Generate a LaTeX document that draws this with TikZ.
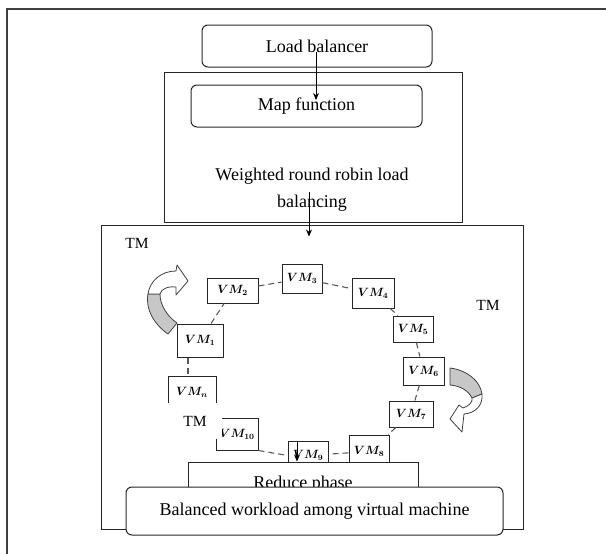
\documentclass[tikz,border=0pt]{standalone}
\usepackage{fontspec}
\setmainfont{Liberation Serif}
\usetikzlibrary{calc,arrows.meta}
\begin{document}
\begin{tikzpicture}[x=1pt,y=-1pt,
  box/.style={draw=black!85, line width=1pt, inner sep=0pt},
  rbox/.style={box, rounded corners=6pt},
  lbl/.style={font=\fontsize{18}{27}\selectfont},
  tmlbl/.style={font=\fontsize{15.5}{18}\selectfont, inner sep=0pt},
  vm/.style={box, font=\fontsize{12}{14}\selectfont\boldmath},
  ring/.style={draw=black!65, line width=1.1pt, dash pattern=on 6pt off 4pt},
  arr/.style={-{Stealth[length=7pt,width=6pt]}, line width=0.9pt},
  curvline/.style={draw=black!75, line width=0.8pt, line join=round},
  graypart/.style={curvline, fill=black!22},
  whitepart/.style={curvline, fill=white}]
\useasboundingbox (0,0) rectangle (606,554);
% outer frame
\draw[black!75, line width=1.6pt] (7,554) -- (7,9) -- (606,9);

% top part
\node[rbox, lbl, minimum width=230pt, minimum height=42pt] (lb) at (317,46) {Load balancer};
\node[box, minimum width=298pt, minimum height=150pt] (wrr) at (313,147) {};
\node[rbox, lbl, minimum width=231pt, minimum height=42pt] (map) at (306.5,106) {Map function};
\node[lbl, align=center, inner sep=0pt] (wrrtext) at (312,190) {Weighted round robin load\\balancing};
\draw[arr] ($(lb.center)+(-1,6)$) -- ($(lb.center |- map.center)+(-1,-6)$);

% TM box
\node[box, minimum width=422pt, minimum height=304pt] (tm) at (312,377) {};
\draw[arr] ($(wrrtext.center)+(-3,2)$) -- ($(wrrtext.center |- tm.north)+(-3,12)$);
\node[tmlbl] (tm1) at (137,243) {TM};
\node[tmlbl] (tm2) at (488,305) {TM};

% VM nodes
\node[vm, minimum width=51pt, minimum height=25pt] (vm2) at (232.5,290.5) {$VM_2$};
\node[vm, minimum width=40pt, minimum height=29pt] (vm3) at (302,278.5) {$VM_3$};
\node[vm, minimum width=42pt, minimum height=30pt] (vm4) at (373,293) {$VM_4$};
\node[vm, minimum width=40pt, minimum height=26pt] (vm5) at (413,329) {$VM_5$};
\node[vm, minimum width=41pt, minimum height=28pt] (vm6) at (423.5,371) {$VM_6$};
\node[vm, minimum width=44pt, minimum height=26pt] (vm7) at (411,414) {$VM_7$};
\node[vm, minimum width=40pt, minimum height=33pt] (vm8) at (369,451.5) {$VM_8$};
\node[vm, minimum width=40pt, minimum height=29pt] (vm9) at (308,455.5) {$VM_9$};
\node[vm, minimum width=42pt, minimum height=32pt] (vm10) at (237,434) {$VM_{10}$};
\node[vm, minimum width=46pt, minimum height=33pt] (vm1) at (200,340.5) {$VM_1$};
\node[vm, minimum width=48pt, minimum height=32pt] (vmn) at (192,392) {$VM_n$};

% ring
\draw[ring] (vm2) -- (vm3);
\draw[ring] (vm3) -- (vm4);
\draw[ring] (vm4) -- (vm5);
\draw[ring] (vm5) -- (vm6);
\draw[ring] (vm6) -- (vm7);
\draw[ring] (vm7) -- (vm8);
\draw[ring] (vm8) -- (vm9);
\draw[ring] (vm10.south east) -- (vm9.west);
\draw[ring] (vm1) -- (vm2);
\draw[ring] ($(vm1.south)+(-12,0)$) -- ($(vmn.north)+(-4,0)$);

% lower-left TM label covering box edges
\node[tmlbl, fill=white, minimum width=54pt, minimum height=36pt] (tm3) at (195,421) {TM};

% left curved arrow
\draw[graypart] (148,294) .. controls (145,310) and (155,325) .. (168,334)
  -- (177,323) .. controls (167,316) and (160,305) .. (160,294) -- cycle;
\draw[whitepart] (148,294) .. controls (150,280) and (162,271) .. (176,271)
  -- (177,265) -- (188,281) -- (176,295) -- (176,287)
  .. controls (168,286) and (161,289) .. (160,294) -- cycle;

% right curved arrow
\draw[graypart] (450,368) .. controls (466,370) and (480,380) .. (482,394)
  -- (472,398) .. controls (468,390) and (460,386) .. (450,385) -- cycle;
\draw[whitepart] (482,394) .. controls (483,405) and (476,413) .. (464,414)
  -- (462,432) -- (450,419) -- (459,405) -- (463,408)
  .. controls (469,406) and (473,402) .. (472,398) -- cycle;

% reduce and balanced
\node[box, lbl, fill=white, minimum width=230pt, minimum height=40pt, text depth=0pt] (reduce) at (303,482) {Reduce phase};
\draw[arr] ($(vm9.north)+(-11,0)$) -- ($(vm9.north |- reduce.north)+(-11,0)$);
\node[rbox, lbl, fill=white, minimum width=377pt, minimum height=48pt] (bal) at (314.5,511) {Balanced workload among virtual machine};
\end{tikzpicture}
\end{document}
